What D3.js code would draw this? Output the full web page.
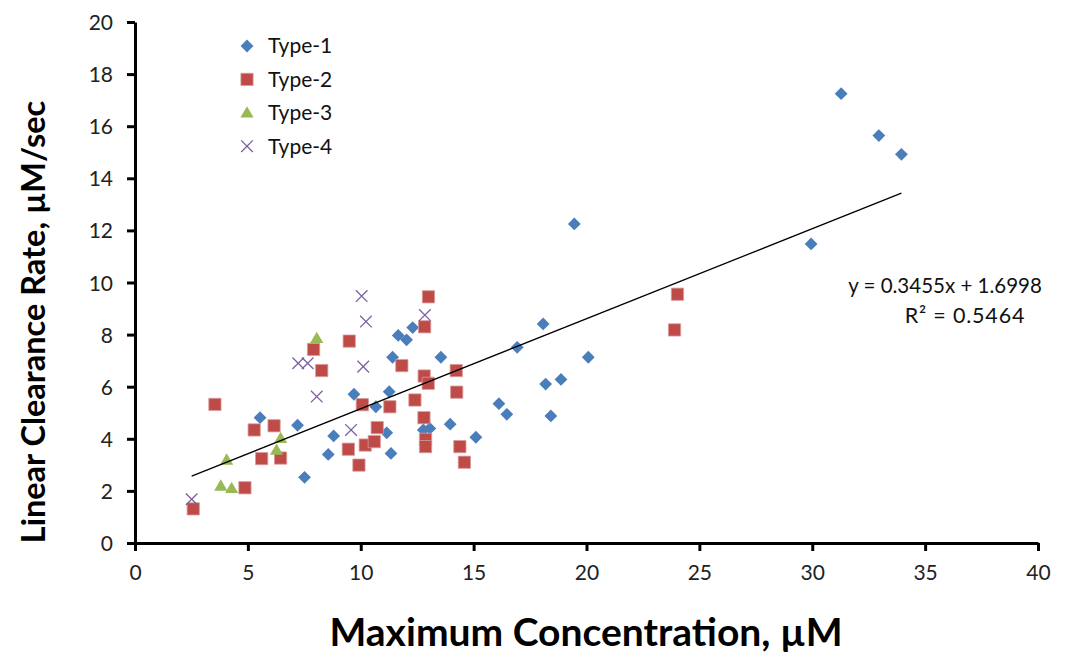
<!DOCTYPE html>
<html>
<head>
<meta charset="utf-8">
<script src="https://cdn.jsdelivr.net/npm/d3@7"></script>
<style>
  body { margin: 0; background: #fff; }
  svg { font-family: Lato, "Open Sans", sans-serif; }
</style>
</head>
<body>
<svg id="chart"></svg>
<script>
// data, [max concentration, clearance rate]
const type1 = [
  [5.54, 4.81], [7.2, 4.52], [7.51, 2.52], [8.56, 3.4], [8.8, 4.11], [9.7, 5.71],
  [10.67, 5.23], [11.26, 5.81], [11.15, 4.23], [11.34, 3.44], [11.41, 7.13],
  [11.66, 7.97], [12.03, 7.8], [12.3, 8.27], [13.55, 7.13], [12.77, 4.34],
  [13.06, 4.4], [13.96, 4.56], [15.1, 4.06], [16.12, 5.35], [16.47, 4.94],
  [16.93, 7.51], [18.08, 8.41], [18.19, 6.1], [18.42, 4.88], [18.87, 6.28],
  [19.46, 12.25], [20.08, 7.13], [29.95, 11.48], [31.28, 17.25], [32.95, 15.64],
  [33.95, 14.92]
];
const type2 = [
  [2.58, 1.31], [3.54, 5.32], [4.87, 2.12], [5.28, 4.34], [5.61, 3.24], [6.16, 4.5],
  [6.45, 3.26], [7.91, 7.43], [8.27, 6.62], [9.45, 3.6], [9.49, 7.75], [9.92, 2.99],
  [10.07, 5.31], [10.2, 3.76], [10.6, 3.89], [10.73, 4.43], [11.29, 5.23],
  [11.82, 6.81], [12.4, 5.49], [12.8, 4.81], [12.81, 6.41], [12.83, 8.3],
  [12.87, 3.98], [12.87, 3.7], [12.99, 6.13], [13.0, 9.45], [14.23, 6.62],
  [14.25, 5.79], [14.39, 3.7], [14.59, 3.1], [23.9, 8.18], [24.03, 9.55]
];
const type3 = [
  [3.8, 2.19], [4.06, 3.19], [4.28, 2.1], [6.27, 3.57], [6.45, 4.02], [8.05, 7.86]
];
const type4 = [
  [2.51, 1.68], [7.23, 6.9], [7.65, 6.9], [8.05, 5.62], [9.57, 4.34],
  [10.04, 9.48], [10.11, 6.77], [10.23, 8.5], [12.84, 8.75]
];
const seriesNames = ["Type-1", "Type-2", "Type-3", "Type-4"];
const xTicks = [0, 5, 10, 15, 20, 25, 30, 35, 40];
const yTicks = [0, 2, 4, 6, 8, 10, 12, 14, 16, 18, 20];
const slope = 0.3455;
const intercept = 1.6998;
const eqText = "y = 0.3455x + 1.6998";
const r2Text = "R\u00B2 = 0.5464";

const width = 1087;
const height = 654;
const colors = ["#4a7ebb", "#be4b48", "#98b954", "#7d60a0"];

const svg = d3.select("#chart").attr("width", width).attr("height", height);

// SCALES
const x = d3.scaleLinear().domain([0, 40]).range([135, 1038]);
const y = d3.scaleLinear().domain([0, 20]).range([543, 22]);

// AXES
const xAxis = d3.axisBottom(x).tickValues(xTicks).tickSize(8).tickSizeOuter(0).tickPadding(14);
const yAxis = d3.axisLeft(y).tickValues(yTicks).tickSize(8).tickSizeOuter(0).tickPadding(14);

const gx = svg.append("g").attr("transform", "translate(0," + y(0) + ")").call(xAxis);
const gy = svg.append("g").attr("transform", "translate(" + x(0) + ",0)").call(yAxis);

[gx, gy].forEach((g) => {
  g.selectAll("path, line").attr("stroke", "#000").attr("stroke-width", 3);
  g.selectAll("text").attr("font-size", 21).attr("fill", "#222")
    .style("font-family", "Lato, sans-serif");
});
gy.selectAll("text").attr("dy", "0.36em");

// marker drawing
function marker(g, type, color) {
  if (type === 0) {
    g.append("path").attr("d", d3.symbol(d3.symbolSquare, 82)())
      .attr("transform", "rotate(45)").attr("fill", color);
  } else if (type === 1) {
    g.append("path").attr("d", d3.symbol(d3.symbolSquare, 150)())
      .attr("fill", color).attr("stroke", "#d99a98").attr("stroke-width", 0.8);
  } else if (type === 2) {
    g.append("path").attr("d", d3.symbol(d3.symbolTriangle, 75)())
      .attr("transform", "translate(0,1)").attr("fill", color);
  } else {
    g.append("path").attr("d", d3.symbol(d3.symbolX, 90)())
      .attr("fill", "none").attr("stroke", color).attr("stroke-width", 1.3);
  }
}

const allX = type1.concat(type2, type3, type4).map((d) => d[0]);
const xMin = d3.min(allX);
const xMax = d3.max(allX);

// POINTS
[type1, type2, type3, type4].forEach((series, i) => {
  svg.append("g").selectAll("g")
    .data(series)
    .enter()
    .append("g")
    .attr("transform", (d) => "translate(" + x(d[0]) + "," + y(d[1]) + ")")
    .each(function () { marker(d3.select(this), i, colors[i]); });
});

// TRENDLINE
svg.append("line")
  .attr("x1", x(xMin)).attr("y1", y(slope * xMin + intercept))
  .attr("x2", x(xMax)).attr("y2", y(slope * xMax + intercept))
  .attr("stroke", "#000").attr("stroke-width", 1.3);

// equation label
svg.append("text").text(eqText)
  .attr("x", 945).attr("y", 293).attr("text-anchor", "middle")
  .attr("font-size", 20.5).attr("fill", "#111");
svg.append("text").text(r2Text)
  .attr("x", 965).attr("y", 323).attr("text-anchor", "middle")
  .attr("font-size", 21.5).attr("letter-spacing", 0.8).attr("fill", "#111");

// LEGEND
seriesNames.forEach((name, i) => {
  const ly = 46 + i * 33.4;
  const g = svg.append("g").attr("transform", "translate(247," + ly + ")");
  marker(g, i, colors[i]);
  svg.append("text").text(name)
    .attr("x", 268).attr("y", ly).attr("dy", "0.35em")
    .attr("font-size", 21).attr("fill", "#111");
});

// AXIS TITLES
svg.append("text").text("Maximum Concentration, \u00B5M")
  .attr("x", 586).attr("y", 646).attr("text-anchor", "middle")
  .attr("font-size", 39).attr("font-weight", "bold").attr("fill", "#000");

svg.append("text").text("Linear Clearance Rate, \u00B5M/sec")
  .attr("transform", "translate(45,322) rotate(-90)")
  .attr("text-anchor", "middle")
  .attr("font-size", 32.5).attr("font-weight", "bold").attr("fill", "#000");
</script>
</body>
</html>
